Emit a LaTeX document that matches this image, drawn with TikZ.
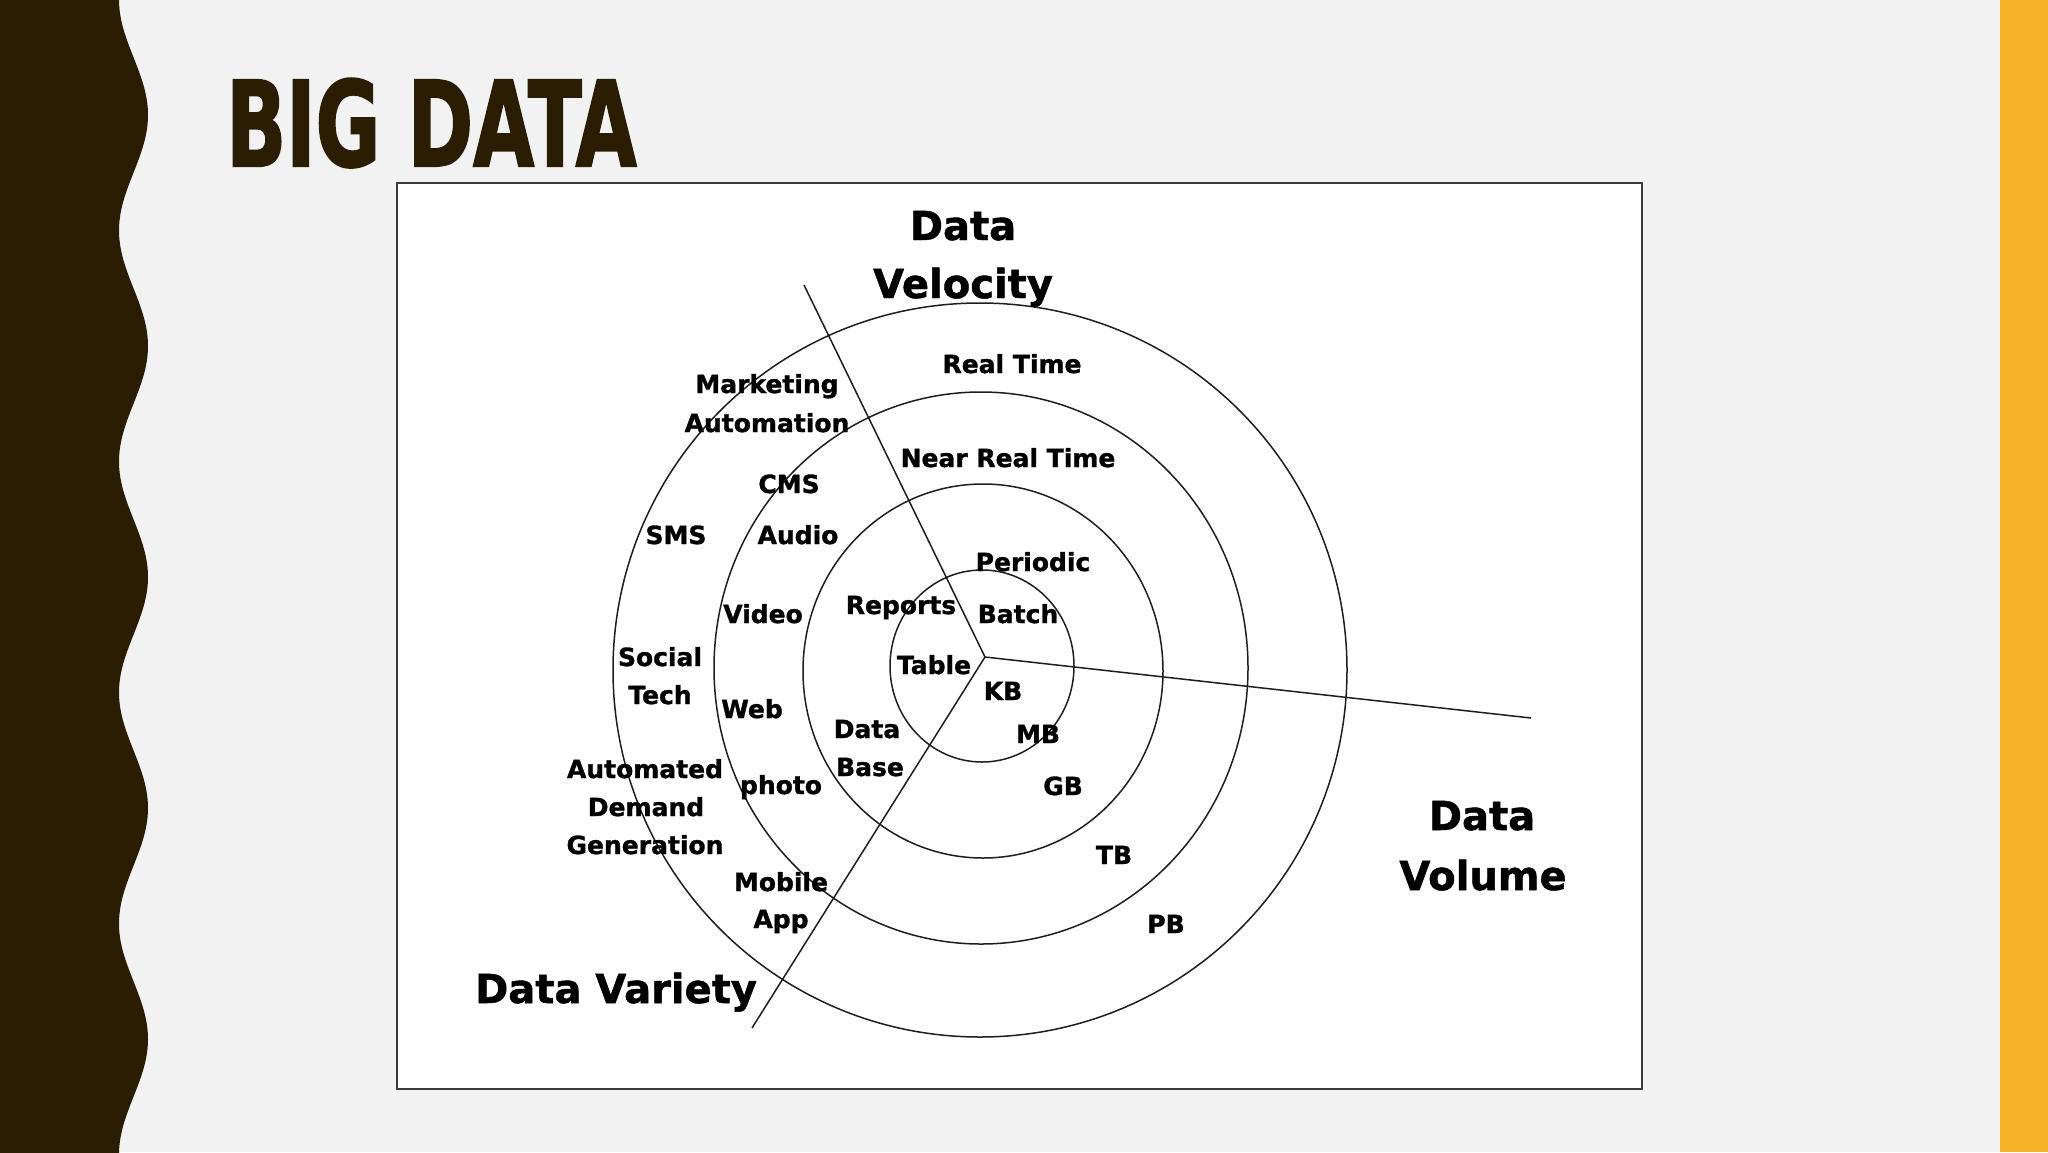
\documentclass[tikz,border=0pt]{standalone}
\usepackage{fontspec}
\newfontfamily\lblfont{DejaVu Sans}[BoldFeatures={FakeBold=1.2}]
\newfontfamily\ttlfont{DejaVu Sans}[BoldFeatures={FakeBold=2}]
\definecolor{bg}{HTML}{F2F2F2}
\definecolor{darkbrown}{HTML}{2B1D04}
\definecolor{gold}{HTML}{F6B328}
\definecolor{ink}{HTML}{1E1E1E}
\definecolor{frame}{HTML}{3C3C3C}
\begin{document}
\begin{tikzpicture}[x=1pt,y=-1pt,
  lbl/.style={anchor=base, inner sep=0pt, text=black, font=\lblfont\bfseries\fontsize{25}{30}\selectfont},
  big/.style={anchor=base, inner sep=0pt, text=black, font=\lblfont\bfseries\fontsize{40}{48}\selectfont},
  ring/.style={draw=ink, line width=1.5pt},
  axis/.style={draw=ink, line width=1.5pt}]
\useasboundingbox (0,0) rectangle (2048,1152);
% background
\fill[bg] (0,0) rectangle (2048,1152);
\fill[gold] (2000,0) rectangle (2048,1152);
\fill[darkbrown] (0,-5) -- plot[domain=-5:1160, samples=300, variable=\t] ({133.5+14.5*cos(1.5584*(\t-115))}, \t) -- (0,1160) -- cycle;
% title
\node[anchor=base west, inner sep=0pt, text=darkbrown, font=\ttlfont\bfseries\fontsize{118}{118}\selectfont] (title) at (226,166) {\scalebox{0.668}[1]{BIG DATA}};
% white box
\draw[frame, fill=white, line width=1.6pt] (397,183) rectangle (1642,1089);
% rings
\draw[ring] (982,666) ellipse [x radius=92pt, y radius=96pt];
\draw[ring] (983,671) ellipse [x radius=180pt, y radius=187pt];
\draw[ring] (981,668) ellipse [x radius=267pt, y radius=276pt];
\draw[ring] (980,670) ellipse [x radius=367pt, y radius=367pt];
% axes
\coordinate (c) at (985,657);
\coordinate (velEnd) at (804,285);
\coordinate (volEnd) at (1531,718);
\coordinate (varEnd) at (752,1028);
\draw[axis] (c) -- (velEnd);
\draw[axis] (c) -- (volEnd);
\draw[axis] (c) -- (varEnd);
% axis titles
\node[big] (vel1) at (963,240) {Data};
\node[big] (vel2) at (963,298) {Velocity};
\node[big] (vol1) at (1482,830) {Data};
\node[big] (vol2) at (1483,890) {Volume};
\node[big] (var) at (616,1003) {Data Variety};
% velocity
\node[lbl] (rt) at (1012,373) {Real Time};
\node[lbl] (nrt) at (1008,467) {Near Real Time};
\node[lbl] (per) at (1033,571) {Periodic};
\node[lbl] (bat) at (1018,623) {Batch};
% volume
\node[lbl] (kb) at (1003,700) {KB};
\node[lbl] (mb) at (1038,743) {MB};
\node[lbl] (gb) at (1063,795) {GB};
\node[lbl] (tb) at (1114,864) {TB};
\node[lbl] (pb) at (1166,933) {PB};
% variety
\node[lbl] (mk1) at (767,393) {Marketing};
\node[lbl] (mk2) at (767,432) {Automation};
\node[lbl] (cms) at (789,493) {CMS};
\node[lbl] (sms) at (676,544) {SMS};
\node[lbl] (aud) at (798,544) {Audio};
\node[lbl] (vid) at (763,623) {Video};
\node[lbl] (rep) at (901,614) {Reports};
\node[lbl] (soc1) at (660,666) {Social};
\node[lbl] (soc2) at (660,704) {Tech};
\node[lbl] (tab) at (934,674) {Table};
\node[lbl] (web) at (752,718) {Web};
\node[lbl] (db1) at (867,738) {Data};
\node[lbl] (db2) at (870,776) {Base};
\node[lbl] (ad1) at (645,778) {Automated};
\node[lbl] (ad2) at (646,816) {Demand};
\node[lbl] (ad3) at (645,854) {Generation};
\node[lbl] (pho) at (781,794) {photo};
\node[lbl] (mob1) at (781,891) {Mobile};
\node[lbl] (mob2) at (781,928) {App};
\end{tikzpicture}
\end{document}
